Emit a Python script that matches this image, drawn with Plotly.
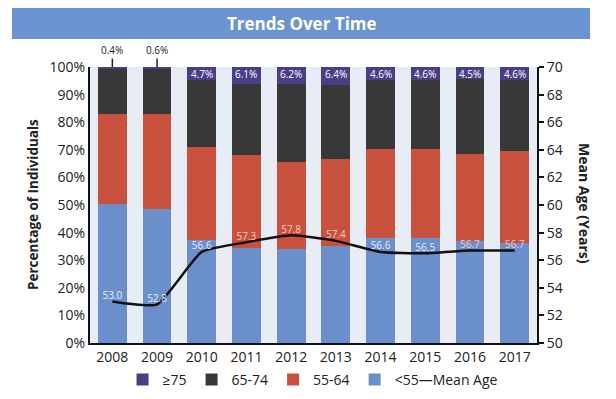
import plotly.graph_objects as go

years = ["2008", "2009", "2010", "2011", "2012", "2013", "2014", "2015", "2016", "2017"]
under55 = [50.2, 48.4, 37.3, 34.5, 33.9, 35.1, 37.9, 37.9, 37.1, 36.1]
age55_64 = [32.7, 34.6, 33.6, 33.6, 31.8, 31.4, 32.3, 32.3, 31.4, 33.5]
age65_74 = [16.7, 16.4, 24.4, 25.8, 28.1, 27.1, 25.2, 25.2, 27.0, 25.8]
age75 = [0.4, 0.6, 4.7, 6.1, 6.2, 6.4, 4.6, 4.6, 4.5, 4.6]
mean_age = [53.0, 52.8, 56.6, 57.3, 57.8, 57.4, 56.6, 56.5, 56.7, 56.7]

BLUE = "#6a8fcb"
RED = "#c8513e"
DARK = "#383838"
PURPLE = "#4a3e86"
BG = "#e8ecf5"
BANNER = "#6b93cf"
FONT = "Open Sans"

fig = go.Figure()
fig.add_trace(go.Bar(x=years, y=under55, name="&lt;55—Mean Age", marker_color=BLUE, marker_line_width=0))
fig.add_trace(go.Bar(x=years, y=age55_64, name="55-64", marker_color=RED, marker_line_width=0))
fig.add_trace(go.Bar(x=years, y=age65_74, name="65-74", marker_color=DARK, marker_line_width=0))
fig.add_trace(go.Bar(x=years, y=age75, name="≥75", marker_color=PURPLE, marker_line_width=0))

# label colours: light on blue, light pink on red
lab_colors = []
for u, r, m in zip(under55, age55_64, mean_age):
    pct = (m - 50) / 20 * 100 + 4
    lab_colors.append("#f4c9bf" if pct > u else "#e6edf8")

fig.add_trace(go.Scatter(
    x=years, y=mean_age, yaxis="y2", mode="lines+text",
    line=dict(color="#111111", width=2.5, shape="spline", smoothing=0.5),
    text=[f"{v:.1f}" for v in mean_age], textposition="top center",
    textfont=dict(family=FONT, size=10, color=lab_colors),
    showlegend=False, hoverinfo="skip", cliponaxis=False,
))

annotations = []
for i, p in enumerate(age75):
    if p >= 1:
        annotations.append(dict(x=i, y=97.6, xref="x", yref="y", text=f"{p:.1f}%",
                                showarrow=False, font=dict(family=FONT, size=10, color="#ffffff")))
    else:
        annotations.append(dict(x=i, y=100, xref="x", yref="y", text=f"{p:.1f}%",
                                showarrow=True, arrowhead=0, arrowwidth=1.5, arrowcolor="#222222",
                                ax=0, ay=-17, font=dict(family=FONT, size=10, color="#222222")))

annotations.append(dict(x=0.474, y=1.159, xref="paper", yref="paper", text="<b>Trends Over Time</b>",
                        xanchor="center", yanchor="middle",
                        showarrow=False, font=dict(family=FONT, size=17, color="#ffffff")))
annotations.append(dict(x=-0.1275, y=0.5, xref="paper", yref="paper", text="<b>Percentage of Individuals</b>",
                        xanchor="center", yanchor="middle",
                        textangle=-90, showarrow=False, font=dict(family=FONT, size=13.5, color="#222222")))
annotations.append(dict(x=1.105, y=0.504, xref="paper", yref="paper", text="<b>Mean Age (Years)</b>",
                        xanchor="center", yanchor="middle",
                        textangle=90, showarrow=False, font=dict(family=FONT, size=14, color="#222222")))

fig.update_layout(
    width=608, height=391,
    margin=dict(l=82, r=79, t=59, b=56, autoexpand=False),
    paper_bgcolor="#ffffff", plot_bgcolor=BG,
    barmode="stack", bargap=0.355,
    font=dict(family=FONT, color="#222222"),
    showlegend=True,
    legend=dict(orientation="h", x=0.499, y=-0.134, xanchor="center", yanchor="middle",
                traceorder="reversed", font=dict(family=FONT, size=14, color="#222222"),
                itemwidth=30, bgcolor="rgba(0,0,0,0)"),
    xaxis=dict(type="category", range=[-0.5, 9.5], showline=True, linecolor="#111111", linewidth=2,
               ticks="", tickfont=dict(family=FONT, size=14, color="#222222"), showgrid=False),
    yaxis=dict(range=[0, 100], dtick=10, ticksuffix="%", showline=True, linecolor="#111111",
               linewidth=2, ticks="", showgrid=False, zeroline=False,
               tickfont=dict(family=FONT, size=14, color="#222222")),
    yaxis2=dict(range=[50, 70], dtick=2, overlaying="y", side="right", showline=True,
                linecolor="#111111", linewidth=2, ticks="outside", ticklen=5, tickwidth=1.5,
                tickcolor="#111111", showgrid=False, zeroline=False,
                tickfont=dict(family=FONT, size=14, color="#222222")),
    shapes=[dict(type="rect", xref="paper", yref="paper", x0=-0.1745, x1=1.1186,
                 y0=1.1014, y1=1.2174, fillcolor=BANNER, line_width=0, layer="below")],
    annotations=annotations,
)

fig.write_html("out.html")
